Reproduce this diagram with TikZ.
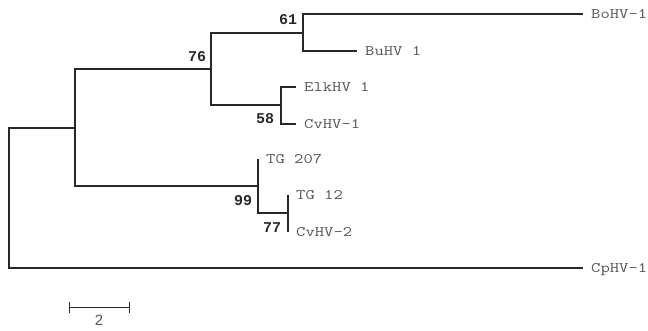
\documentclass[tikz,border=0pt]{standalone}
\usepackage{fontspec}
\newfontfamily\taxfont[FakeStretch=1.25]{Latin Modern Mono}
\newfontfamily\bootfont{Liberation Mono}
\newfontfamily\barfont{Liberation Sans}
\usepackage{tikz}
\usetikzlibrary{arrows.meta}
\definecolor{trLine}{RGB}{40,40,40}
\definecolor{trText}{RGB}{85,85,85}

\begin{document}
\begin{tikzpicture}[x=1pt, y=-1pt,
    branch/.style={draw=trLine, line width=1.2pt},
    taxon/.style={anchor=west, inner xsep=8pt, inner ysep=0pt, text height=8.9pt,
                  text depth=0pt, text=trText, font=\taxfont\fontsize{14.5}{14.5}\selectfont},
    boot/.style={inner sep=0pt, text height=9pt, text depth=0pt, text=trLine,
                 font=\bootfont\bfseries\fontsize{15}{15}\selectfont}
  ]
  \useasboundingbox (0,0) rectangle (648,330);

  % internal nodes
  \coordinate (root) at (9,198);
  \coordinate (nA) at (75,128);
  \coordinate (nB) at (211,69);
  \coordinate (nC) at (303,33);
  \coordinate (nD) at (281,105);
  \coordinate (nE) at (258,186);
  \coordinate (nF) at (288,213);

  % taxa
  \node[taxon] (bohv)  at (583,14)  {BoHV-1};
  \node[taxon] (buhv)  at (357,51)  {BuHV 1};
  \node[taxon] (elkhv) at (296,87)  {ElkHV 1};
  \node[taxon] (cvhv1) at (296,124) {CvHV-1};
  \node[taxon] (tg207) at (258,159) {TG 207};
  \node[taxon] (tg12)  at (288,195) {TG 12};
  \node[taxon] (cvhv2) at (288,232) {CvHV-2};
  \node[taxon] (cphv)  at (583,268) {CpHV-1};

  % branches
  \draw[branch] (root) |- (nA);
  \draw[branch] (root) |- (cphv.west);
  \draw[branch] (nA) |- (nB);
  \draw[branch] (nA) |- (nE);
  \draw[branch] (nB) |- (nC);
  \draw[branch] (nB) |- (nD);
  \draw[branch] (nC) |- (bohv.west);
  \draw[branch] (nC) |- (buhv.west);
  \draw[branch] (nD) |- (elkhv.west);
  \draw[branch] (nD) |- (cvhv1.west);
  \draw[branch] (nE) |- (tg207.west);
  \draw[branch] (nE) |- (nF);
  \draw[branch] (nF) |- (tg12.west);
  \draw[branch] (nF) |- (cvhv2.west);

  % bootstrap values
  \node[boot] (b61) at (288,20)  {61};
  \node[boot] (b76) at (197,57)  {76};
  \node[boot] (b58) at (265,119) {58};
  \node[boot] (b99) at (243,201) {99};
  \node[boot] (b77) at (272,228) {77};

  % scale bar
  \coordinate (s0) at (69,307);
  \coordinate (s1) at (130,307);
  \draw[branch, line width=1pt, {Bar[width=11pt]}-{Bar[width=11pt]}] (s0) -- (s1);
  \node[text=trText, font=\barfont\fontsize{15}{15}\selectfont, inner sep=0pt,
        text height=10.5pt, text depth=0pt] (slbl) at (99,320.5) {2};
\end{tikzpicture}
\end{document}
